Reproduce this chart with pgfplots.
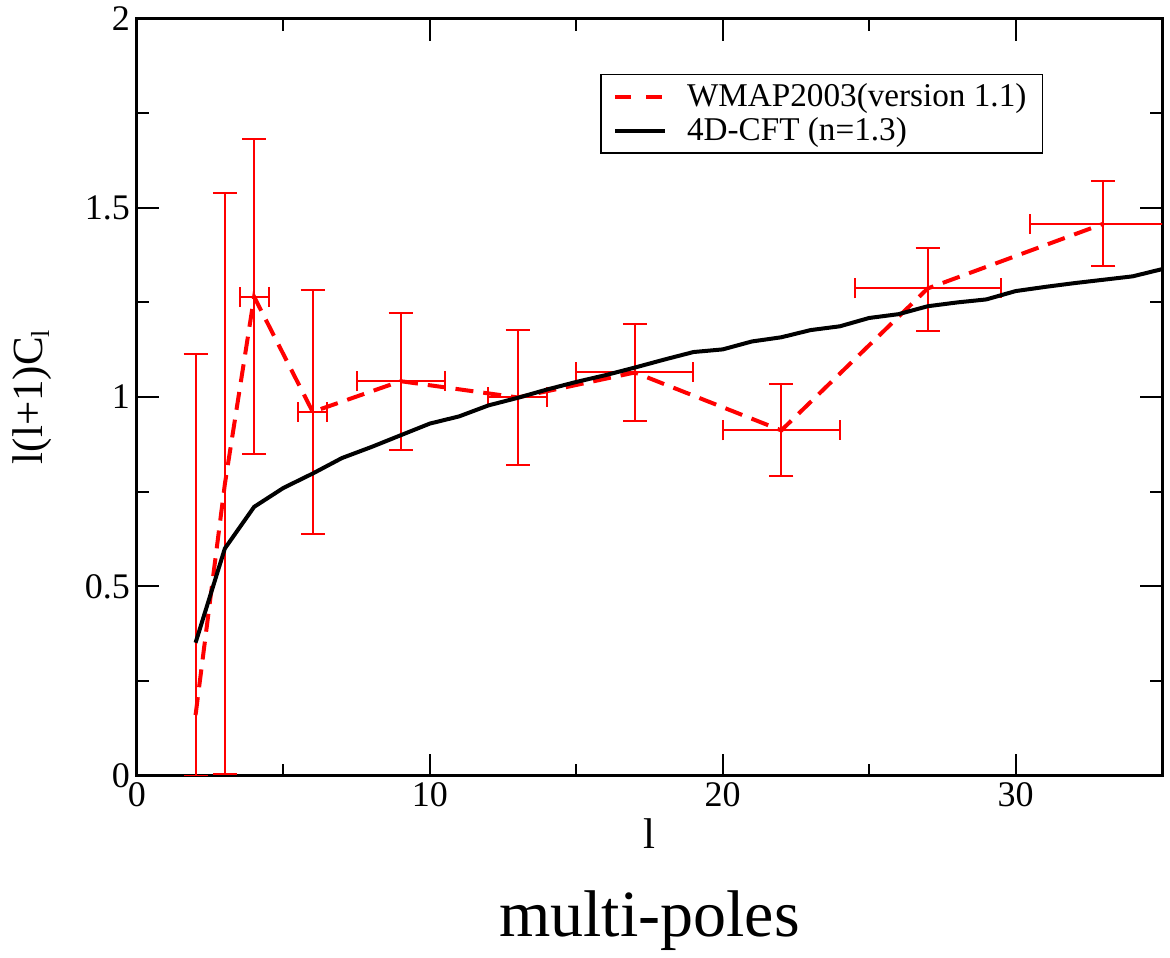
\documentclass[border=0pt]{standalone}
\usepackage{fontspec}
\setmainfont{Liberation Serif}
\usepackage{pgfplots}
\pgfplotsset{compat=1.18}
\usetikzlibrary{calc}

% WMAP2003 binned points: x, y, x-error, y-error (+), y-error (-)
\begin{document}
\begin{tikzpicture}
\begin{axis}[
  scale only axis,
  width=512.5pt, height=378.5pt,
  xmin=0, xmax=35, ymin=0, ymax=2,
  xtick={0,10,20,30}, minor xtick={5,15,25,35},
  ytick={0,0.5,1,1.5,2}, minor ytick={0.25,0.75,1.25,1.75},
  tick align=inside,
  major tick length=11pt, minor tick length=6pt,
  tick style={black, line width=1pt},
  axis line style={line width=1.5pt},
  /pgf/number format/assume math mode=true,
  tick label style={font=\fontsize{18}{20}\selectfont},
  xlabel={l}, ylabel={l(l+1)C\raisebox{-0.35ex}{\fontsize{13}{13}\selectfont l}},
  label style={font=\fontsize{21.5}{23}\selectfont},
  xlabel style={at={(axis description cs:0.5,-0.077)}, anchor=center},
  ylabel style={at={(axis description cs:-0.1025,0.5)}, anchor=center, rotate=0},
  legend cell align=left,
  legend style={at={(rel axis cs:0.452,0.927)}, anchor=north west,
    draw=black, line width=0.8pt, font=\fontsize{16.6}{18}\selectfont,
    inner xsep=6pt, inner ysep=2.5pt, row sep=0pt},
]
\addplot[red, mark=none, line width=2pt, dash pattern=on 9pt off 5pt,
  legend image code/.code={
    \draw[red, line width=2pt, dash pattern=on 8pt off 7.5pt] (0pt,0pt) -- (25pt,0pt);
    \path (33pt,0pt);},
  error bars/.cd, y dir=both, y explicit,
  error bar style={solid, line width=1pt, red},
  error mark options={solid, line width=1pt, red, mark size=6pt, rotate=90}]
  coordinates {
  (2,0.16) += (0,0.955) -= (0,0.16)
  (3,0.77) += (0,0.768) -= (0,0.767)
  (4,1.265) += (0,0.418) -= (0,0.416)
  (6,0.961) += (0,0.321) -= (0,0.323)
  (9,1.042) += (0,0.18) -= (0,0.181)
  (13,0.999) += (0,0.178) -= (0,0.178)
  (17,1.065) += (0,0.128) -= (0,0.128)
  (22,0.912) += (0,0.123) -= (0,0.121)
  (27,1.287) += (0,0.108) -= (0,0.113)
  (33,1.458) += (0,0.112) -= (0,0.111)
  };
\addlegendentry{WMAP2003(version 1.1)}
\addplot[draw=none, mark=none, forget plot,
  error bars/.cd, x dir=both, x explicit,
  error bar style={solid, line width=1pt, red},
  error mark options={solid, line width=1pt, red, mark size=5pt, rotate=90}]
  coordinates {
  (4,1.265) +- (0.5,0)
  (6,0.961) +- (0.5,0)
  (9,1.042) +- (1.5,0)
  (13,0.999) +- (1,0)
  (17,1.065) +- (2,0)
  (22,0.912) +- (2,0)
  (27,1.287) +- (2.5,0)
  (33,1.458) +- (2.5,0)
  };
\addplot[black, mark=none, line width=2pt,
  legend image code/.code={
    \draw[black, line width=2pt] (0pt,0pt) -- (25pt,0pt);
    \path (33pt,0pt);}]
  coordinates {
  (2,0.351) (3,0.600) (4,0.710) (5,0.760) (6,0.798) (7,0.839) (8,0.868)
  (9,0.899) (10,0.930) (11,0.949) (12,0.978) (13,0.998) (14,1.020)
  (15,1.040) (16,1.058) (17,1.078) (18,1.099) (19,1.119) (20,1.126)
  (21,1.147) (22,1.158) (23,1.177) (24,1.187) (25,1.209) (26,1.219)
  (27,1.240) (28,1.250) (29,1.258) (30,1.280) (31,1.291) (32,1.301)
  (33,1.310) (34,1.319) (35,1.338)
  };
\addlegendentry{4D-CFT (n=1.3)}
\coordinate (bl) at (rel axis cs:0,0);
\coordinate (br) at (rel axis cs:1,0);
\coordinate (tr) at (rel axis cs:1,1);
\end{axis}
\node[anchor=base, font=\fontsize{33}{36}\selectfont] at ($($(bl)!0.5!(br)$)+(0,-80.5pt)$) {multi-poles};
\path ($(tr)+(4pt,0)$);
\path ($(bl)+(-68.5pt,0)$);
\end{tikzpicture}
\end{document}
